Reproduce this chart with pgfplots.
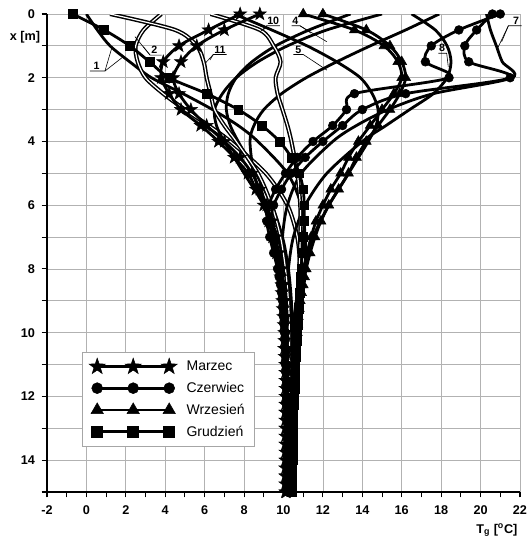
\documentclass[border=0pt]{standalone}
\usepackage{fontspec}
\setmainfont{Liberation Sans}
\usepackage{pgfplots}
\pgfplotsset{compat=1.18}
\usetikzlibrary{plotmarks}

\pgfdeclareplotmark{fstar}{%
  \pgfpathmoveto{\pgfpointpolar{90}{1.55\pgfplotmarksize}}%
  \pgfpathlineto{\pgfpointpolar{126}{0.62\pgfplotmarksize}}%
  \pgfpathlineto{\pgfpointpolar{162}{1.55\pgfplotmarksize}}%
  \pgfpathlineto{\pgfpointpolar{198}{0.62\pgfplotmarksize}}%
  \pgfpathlineto{\pgfpointpolar{234}{1.55\pgfplotmarksize}}%
  \pgfpathlineto{\pgfpointpolar{270}{0.62\pgfplotmarksize}}%
  \pgfpathlineto{\pgfpointpolar{306}{1.55\pgfplotmarksize}}%
  \pgfpathlineto{\pgfpointpolar{342}{0.62\pgfplotmarksize}}%
  \pgfpathlineto{\pgfpointpolar{18}{1.55\pgfplotmarksize}}%
  \pgfpathlineto{\pgfpointpolar{54}{0.62\pgfplotmarksize}}%
  \pgfpathclose
  \pgfusepathqfillstroke
}

\pgfplotsset{
  curve/.style={black, line width=2.1pt, smooth},
  dcurve/.style={black, line width=1.1pt, double=white, double distance=0.9pt, smooth},
  mk/.style={curve, mark=#1, mark size=3.3pt, mark options={solid, fill=black, line width=0.4pt}},
  mktri/.style={curve, mark=triangle*, mark size=3.3pt, mark options={solid, fill=black, line width=0.4pt, scale=1.3}},
}
\tikzset{lab/.style={font=\fontsize{8}{9}\selectfont\bfseries, inner sep=0pt},
         lead/.style={black, line width=0.45pt}}

\begin{document}
\begin{tikzpicture}
\begin{axis}[
  width=354.75pt, height=358.5pt, scale only axis,
  xmin=-2, xmax=22, ymin=0, ymax=15, y dir=reverse,
  xtick={-2,0,...,22}, minor xtick={-1,1,...,21},
  ytick={0,2,...,14}, minor ytick={1,3,...,15},
  xmajorgrids, ymajorgrids, yminorgrids,
  grid style={gray!60, line width=0.6pt},
  minor grid style={gray!60, line width=0.6pt},
  axis line style={draw=none},
  tick align=outside,
  xtick pos=left, ytick pos=left,
  major tick length=4pt, minor tick length=4pt,
  tick style={black, line width=0.8pt},
  ticklabel style={font=\fontsize{9.5}{10}\selectfont\bfseries},
  xticklabel style={yshift=-3pt},
  yticklabel style={xshift=-1.5pt},
  /pgf/number format/assume math mode=true,
  clip mode=individual,
  legend style={at={(axis cs:-0.22,10.6)}, anchor=north west, draw=gray!70,
    line width=0.6pt, font=\fontsize{10.5}{12}\selectfont, row sep=3.2pt,
    inner xsep=5pt, inner ysep=4.5pt, fill=white,
    /tikz/every odd column/.append style={column sep=5pt}},
  legend cell align=left,
  legend image code/.code={\draw[#1, mark size=4.1pt] plot coordinates {(0pt,0pt) (27pt,0pt) (54pt,0pt)};},
]
% ---- month 1
\addplot[curve, forget plot] table {
0.0 0
0.55 0.5
1.2 1
2.2 1.5
3.3 2
4.9 2.5
6.4 3
7.7 3.5
8.7 4
10.2 5
10.9 6
11.1 7
11.1 8
10.95 9
10.8 10
10.65 11
10.5 12
10.4 13
10.3 14
10.2 15
};
% ---- month 2
\addplot[dcurve, forget plot] table {
3.8 0
2.9 0.5
2.5 1
2.6 1.5
3.0 2
3.9 2.5
5.0 3
6.2 3.5
7.3 4
9.1 5
10.2 6
10.7 7
10.85 8
10.85 9
10.8 10
10.7 11
10.6 12
10.5 13
10.4 14
10.3 15
};
% ---- month 4
\addplot[curve, forget plot] table {
15.0 0
12.2 0.5
10.2 1
8.7 1.5
7.6 2
6.9 2.5
6.5 3
6.6 3.5
7.0 4
8.0 5
9.0 6
9.7 7
10.1 8
10.35 9
10.45 10
10.5 11
10.5 12
10.45 13
10.4 14
10.35 15
};
% ---- month 4, second profile
\addplot[curve, forget plot] table {
13.4 0
11.3 0.5
9.6 1
8.4 1.5
7.6 2
7.2 2.5
7.1 3
7.3 3.5
7.7 4
8.6 5
9.4 6
9.95 7
10.25 8
10.4 9
10.45 10
10.45 11
10.45 12
10.4 13
10.35 14
10.3 15
};
% ---- month 5
\addplot[curve, forget plot] table {
17.9 0
16.2 0.5
14.4 1
12.7 1.5
11.15 2
9.9 2.5
9.0 3
8.5 3.5
8.3 4
8.5 5
9.0 6
9.5 7
9.85 8
10.1 9
10.25 10
10.35 11
10.4 12
10.4 13
10.4 14
10.35 15
};
% ---- month 7
\addplot[curve, forget plot] table {
20.3 0
20.5 0.5
20.8 1
21.1 1.5
21.6 2
17.6 2.5
15.3 3
13.7 3.5
12.5 4
10.9 5
10.2 6
9.95 7
9.95 8
10.0 9
10.05 10
10.1 11
10.15 12
10.2 13
10.2 14
10.25 15
};
% ---- month 8
\addplot[curve, forget plot] table {
16.5 0
17.7 0.5
18.3 1
18.5 1.5
18.3 2
17.6 2.5
16.4 3
15.2 3.5
14.0 4
12.2 5
11.1 6
10.5 7
10.25 8
10.15 9
10.1 10
10.1 11
10.1 12
10.1 13
10.15 14
10.15 15
};
% ---- month 10
\addplot[dcurve, forget plot] table {
6.3 0
8.8 0.5
9.5 1
9.85 1.5
9.6 2
9.7 2.5
9.95 3
10.2 3.5
10.4 4
10.7 5
10.85 6
10.85 7
10.8 8
10.7 9
10.6 10
10.5 11
10.45 12
10.4 13
10.35 14
10.3 15
};
% ---- month 10, second profile
\addplot[curve, forget plot] table {
7.5 0
9.4 0.5
11.2 1
12.7 1.5
13.9 2
14.5 2.5
14.8 3
14.7 3.5
14.3 4
13.3 5
12.3 6
11.5 7
11.0 8
10.65 9
10.45 10
10.3 11
10.2 12
10.1 13
10.05 14
10.0 15
};
% ---- month 11
\addplot[dcurve, forget plot] table {
1.2 0
4.5 0.5
5.6 1
5.95 1.5
6.1 2
6.3 2.5
6.5 3
7.0 3.5
7.6 4
8.7 5
9.4 6
9.85 7
10.1 8
10.25 9
10.3 10
10.3 11
10.3 12
10.25 13
10.2 14
10.15 15
};
% ---- second profiles (no legend)
\addplot[mk=fstar, forget plot] table {
8.8 0
7.0 0.5
5.6 1
4.8 1.5
4.4 2
4.7 2.5
5.3 3
6.1 3.5
7.0 4
7.8 4.5
8.4 5
8.8 5.5
9.15 6
9.4 6.5
9.6 7
9.75 7.5
9.9 8
10.0 8.5
10.05 9
10.1 9.5
10.1 10
10.15 10.5
10.15 11
10.15 11.5
10.15 12
10.15 12.5
10.15 13
10.15 13.5
10.15 14
10.15 14.5
10.15 15
};
\addplot[mk=*, forget plot] table {
20.6 0
19.8 0.5
19.2 1
19.4 1.5
21.5 2
16.2 2.5
14.0 3
13.0 3.5
12.0 4
11.1 4.5
10.4 5
9.9 5.5
9.5 6
9.35 6.5
9.4 7
9.55 7.5
9.75 8
9.9 8.5
10.0 9
10.05 9.5
10.1 10
10.1 10.5
10.15 11
10.15 11.5
10.15 12
10.2 12.5
10.2 13
10.2 13.5
10.2 14
10.2 14.5
10.2 15
};
\addplot[mktri, forget plot] table {
11.0 0
13.6 0.5
15.1 1
15.8 1.5
16.0 2
15.6 2.5
15.0 3
14.4 3.5
13.8 4
13.3 4.5
12.9 5
12.4 5.5
12.0 6
11.65 6.5
11.4 7
11.2 7.5
11.05 8
10.9 8.5
10.8 9
10.7 9.5
10.65 10
10.55 10.5
10.5 11
10.45 11.5
10.45 12
10.4 12.5
10.4 13
10.35 13.5
10.35 14
10.3 14.5
10.3 15
};
% ---- March (stars)
\addplot[mk=fstar] table {
7.8 0
6.2 0.5
4.7 1
3.9 1.5
3.8 2
4.2 2.5
4.8 3
5.8 3.5
6.7 4
7.5 4.5
8.2 5
8.6 5.5
9.0 6
9.25 6.5
9.45 7
9.65 7.5
9.8 8
9.85 8.25
9.9 8.5
9.92 8.75
9.95 9
9.97 9.25
10.0 9.5
10.02 9.75
10.05 10
10.05 10.25
10.05 10.5
10.07 10.75
10.1 11
10.1 11.25
10.1 11.5
10.1 11.75
10.1 12
10.1 12.25
10.1 12.5
10.1 12.75
10.1 13
10.1 13.25
10.1 13.5
10.1 13.75
10.1 14
10.1 14.25
10.1 14.5
10.1 14.75
10.1 15
};
\addlegendentry{Marzec}
% ---- June (circles)
\addplot[mk=*] table {
21.0 0
18.9 0.5
17.5 1
17.2 1.5
18.4 2
13.6 2.5
13.2 3
12.5 3.5
11.5 4
10.7 4.5
10.1 5
9.6 5.5
9.25 6
9.15 6.5
9.3 7
9.5 7.5
9.7 8
9.78 8.25
9.85 8.5
9.9 8.75
9.95 9
9.98 9.25
10.0 9.5
10.03 9.75
10.05 10
10.08 10.25
10.1 10.5
10.1 10.75
10.1 11
10.12 11.25
10.15 11.5
10.15 11.75
10.15 12
10.15 12.25
10.15 12.5
10.18 12.75
10.2 13
10.2 13.25
10.2 13.5
10.2 13.75
10.2 14
10.2 14.25
10.2 14.5
10.2 14.75
10.2 15
};
\addlegendentry{Czerwiec}
% ---- September (triangles)
\addplot[mktri] table {
12.0 0
14.2 0.5
15.4 1
16.0 1.5
16.2 2
15.9 2.5
15.4 3
14.8 3.5
14.2 4
13.7 4.5
13.3 5
12.8 5.5
12.3 6
11.9 6.5
11.6 7
11.35 7.5
11.15 8
11.07 8.25
11.0 8.5
10.92 8.75
10.85 9
10.8 9.25
10.75 9.5
10.72 9.75
10.7 10
10.65 10.25
10.6 10.5
10.57 10.75
10.55 11
10.52 11.25
10.5 11.5
10.5 11.75
10.5 12
10.47 12.25
10.45 12.5
10.42 12.75
10.4 13
10.4 13.25
10.4 13.5
10.37 13.75
10.35 14
10.35 14.25
10.35 14.5
10.32 14.75
10.3 15
};
\addlegendentry{Wrzesień}
% ---- December (squares)
\addplot[mk=square*] table {
-0.7 0
0.9 0.5
2.2 1
3.2 1.5
4.2 2
6.1 2.5
7.7 3
8.9 3.5
9.8 4
10.4 4.5
10.8 5
11.0 5.5
11.05 6
11.05 6.5
11.0 7
10.95 7.5
10.9 8
10.87 8.25
10.85 8.5
10.82 8.75
10.8 9
10.77 9.25
10.75 9.5
10.72 9.75
10.7 10
10.67 10.25
10.65 10.5
10.62 10.75
10.6 11
10.6 11.25
10.6 11.5
10.57 11.75
10.55 12
10.52 12.25
10.5 12.5
10.5 12.75
10.5 13
10.47 13.25
10.45 13.5
10.45 13.75
10.45 14
10.42 14.25
10.4 14.5
10.4 14.75
10.4 15
};
\addlegendentry{Grudzień}

% axis lines (left and bottom)
\draw[black, line width=1.2pt] (axis cs:-2,0) -- (axis cs:-2,15) -- (axis cs:22,15);

% curve labels
\node[lab] at (axis cs:0.52,1.62) {1};
\draw[lead] (axis cs:0.18,1.79) -- (axis cs:0.94,1.79) -- (axis cs:1.28,1.08);
\draw[lead] (axis cs:0.94,1.79) -- (axis cs:1.87,1.34);
\node[lab] at (axis cs:3.45,1.12) {2};
\draw[lead] (axis cs:3.82,1.29) -- (axis cs:3.23,1.29) -- (axis cs:2.46,0.71);
\draw[lead] (axis cs:3.23,1.29) -- (axis cs:2.89,1.03);
\node[lab] at (axis cs:6.78,1.12) {11};
\draw[lead] (axis cs:7.12,1.27) -- (axis cs:6.44,1.27) -- (axis cs:6.02,1.55);
\draw[lead] (axis cs:6.44,1.27) -- (axis cs:6.27,1.44);
\node[lab] at (axis cs:9.48,0.22) {10};
\draw[lead] (axis cs:9.82,0.37) -- (axis cs:9.15,0.37) -- (axis cs:8.98,0.5);
\draw[lead] (axis cs:9.15,0.37) -- (axis cs:8.81,0.56);
\node[lab] at (axis cs:10.6,0.22) {4};
\draw[lead] (axis cs:10.41,0.37) -- (axis cs:10.84,0.37) -- (axis cs:11.4,0.6);
\draw[lead] (axis cs:10.84,0.37) -- (axis cs:12.2,0.87);
\node[lab] at (axis cs:10.75,1.12) {5};
\draw[lead] (axis cs:10.5,1.27) -- (axis cs:11.0,1.27) -- (axis cs:12.2,1.76);
\node[lab] at (axis cs:18.05,1.07) {8};
\draw[lead] (axis cs:17.86,1.23) -- (axis cs:18.28,1.23) -- (axis cs:18.36,1.65);
\node[lab] at (axis cs:21.8,0.22) {7};
\draw[lead] (axis cs:22.08,0.37) -- (axis cs:21.41,0.37) -- (axis cs:20.82,1.13);
\draw[lead] (axis cs:21.41,0.37) -- (axis cs:21.07,0.87);

% axis titles
\node[font=\fontsize{9.5}{10}\selectfont\bfseries, anchor=east, inner sep=0pt]
  at ([xshift=-5pt]axis cs:-2,0.73) {x [m]};
\node[font=\fontsize{9.5}{10}\selectfont\bfseries, anchor=north, inner sep=0pt]
  at ([yshift=-23.5pt]axis cs:20.83,15) {T\textsubscript{g} [\textsuperscript{o}C]};

\coordinate (bl) at (axis cs:-2,15);
\coordinate (tr) at (axis cs:22,0);
\end{axis}
\pgfresetboundingbox
\path[use as bounding box] ([xshift=-35.25pt,yshift=-33.75pt]bl) rectangle ([xshift=8.25pt,yshift=10.5pt]tr);
\end{tikzpicture}
\end{document}
